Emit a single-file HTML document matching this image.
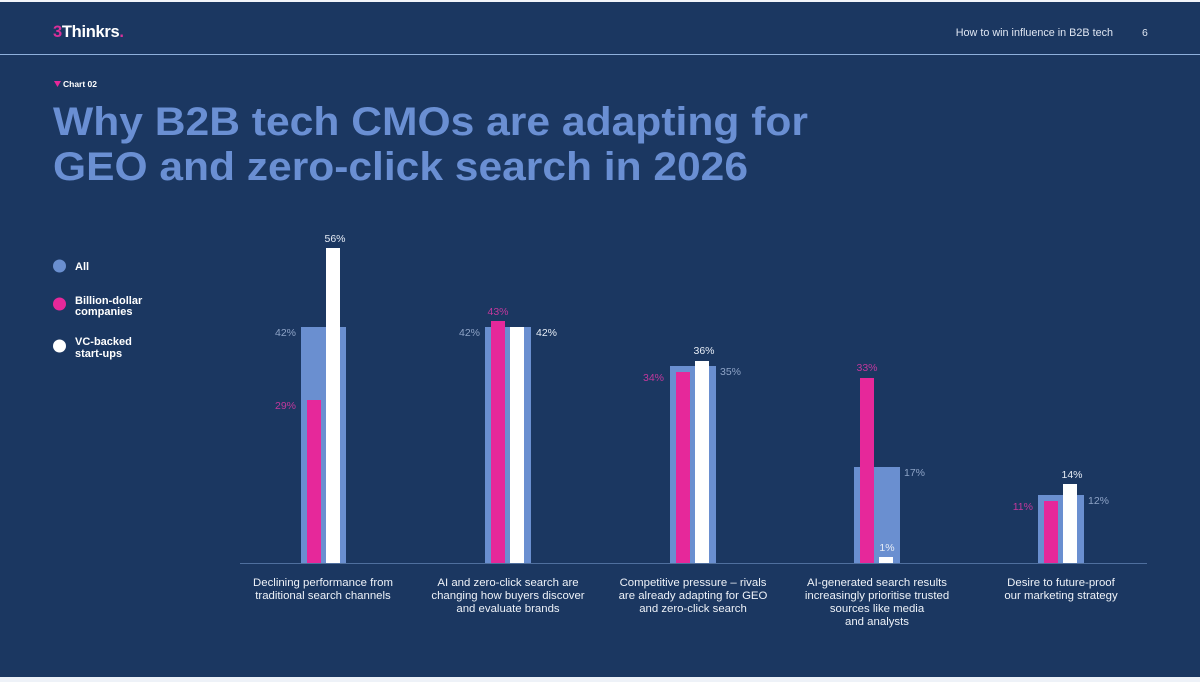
<!DOCTYPE html>
<html><head><meta charset="utf-8"><style>
html,body{margin:0;padding:0;background:#1b3761;}
svg{display:block;font-family:"Liberation Sans",Arial,sans-serif;}
</style></head><body>
<svg width="1200" height="682" viewBox="0 0 1200 682" xmlns="http://www.w3.org/2000/svg">
<rect width="1200" height="682" fill="#1b3761"/>
<rect x="0" y="0" width="1200" height="2" fill="#f2f5fa"/>
<rect x="0" y="677" width="1200" height="5" fill="#eef2f8"/>
<line x1="0" y1="54.5" x2="1200" y2="54.5" stroke="#8fb0dc" stroke-width="1"/>
<text x="53" y="37" font-size="16.5" font-weight="bold" fill="#ffffff" letter-spacing="-0.3"><tspan fill="#d8309a">3</tspan>Thinkrs<tspan fill="#d8309a">.</tspan></text>
<text x="1113" y="36" font-size="10.8" fill="#dfe6f2" text-anchor="end">How to win influence in B2B tech</text>
<text x="1142" y="36" font-size="10.5" fill="#dfe6f2">6</text>
<path d="M54 81 L61 81 L57.5 87 Z" fill="#e6289a"/>
<text x="63" y="87" font-size="8.5" font-weight="bold" fill="#ffffff">Chart 02</text>
<text x="53" y="135" font-size="40" font-weight="bold" fill="#6a8fd3" textLength="755" lengthAdjust="spacingAndGlyphs">Why B2B tech CMOs are adapting for</text>
<text x="53" y="180" font-size="40" font-weight="bold" fill="#6a8fd3" textLength="695" lengthAdjust="spacingAndGlyphs">GEO and zero-click search in 2026</text>
<g font-size="11" font-weight="bold" fill="#ffffff">
<circle cx="59.5" cy="266" r="6.5" fill="#6a8fd0"/><text x="75" y="270">All</text>
<circle cx="59.5" cy="304" r="6.5" fill="#e6289a"/><text x="75" y="304">Billion-dollar</text><text x="75" y="315">companies</text>
<circle cx="59.5" cy="346" r="6.5" fill="#ffffff"/><text x="75" y="345">VC-backed</text><text x="75" y="357">start-ups</text>
</g>
<line x1="240" y1="563.5" x2="1147" y2="563.5" stroke="#4f6f9e" stroke-width="1"/>
<g>
<rect x="301" y="327" width="45" height="236" fill="#6a8fd0"/>
<rect x="307" y="400" width="14" height="163" fill="#e6289a"/>
<rect x="326" y="248" width="14" height="315" fill="#ffffff"/>
<rect x="485" y="327" width="46" height="236" fill="#6a8fd0"/>
<rect x="491" y="321" width="14" height="242" fill="#e6289a"/>
<rect x="510" y="327" width="14" height="236" fill="#ffffff"/>
<rect x="670" y="366" width="46" height="197" fill="#6a8fd0"/>
<rect x="676" y="372" width="14" height="191" fill="#e6289a"/>
<rect x="695" y="361" width="14" height="202" fill="#ffffff"/>
<rect x="854" y="467" width="46" height="96" fill="#6a8fd0"/>
<rect x="860" y="378" width="14" height="185" fill="#e6289a"/>
<rect x="879" y="557" width="14" height="6" fill="#ffffff"/>
<rect x="1038" y="495" width="46" height="68" fill="#6a8fd0"/>
<rect x="1044" y="501" width="14" height="62" fill="#e6289a"/>
<rect x="1063" y="484" width="14" height="79" fill="#ffffff"/>
</g>
<g font-size="10.5">
<text x="296" y="336" text-anchor="end" fill="#8ea3c6">42%</text>
<text x="296" y="409" text-anchor="end" fill="#c2389c">29%</text>
<text x="335" y="242" text-anchor="middle" fill="#e6ecf5">56%</text>
<text x="480" y="336" text-anchor="end" fill="#8ea3c6">42%</text>
<text x="498" y="315" text-anchor="middle" fill="#c2389c">43%</text>
<text x="536" y="336" fill="#e6ecf5">42%</text>
<text x="664" y="381" text-anchor="end" fill="#c2389c">34%</text>
<text x="704" y="354" text-anchor="middle" fill="#e6ecf5">36%</text>
<text x="720" y="375" fill="#8ea3c6">35%</text>
<text x="867" y="371" text-anchor="middle" fill="#c2389c">33%</text>
<text x="904" y="476" fill="#8ea3c6">17%</text>
<text x="887" y="551" text-anchor="middle" fill="#e6ecf5">1%</text>
<text x="1033" y="510" text-anchor="end" fill="#c2389c">11%</text>
<text x="1072" y="478" text-anchor="middle" fill="#e6ecf5">14%</text>
<text x="1088" y="504" fill="#8ea3c6">12%</text>
</g>
<g font-size="11.4" fill="#eef2f8" text-anchor="middle">
<text x="323" y="586">Declining performance from</text>
<text x="323" y="599">traditional search channels</text>
<text x="508" y="586">AI and zero-click search are</text>
<text x="508" y="599">changing how buyers discover</text>
<text x="508" y="612">and evaluate brands</text>
<text x="693" y="586">Competitive pressure – rivals</text>
<text x="693" y="599">are already adapting for GEO</text>
<text x="693" y="612">and zero-click search</text>
<text x="877" y="586">AI-generated search results</text>
<text x="877" y="599">increasingly prioritise trusted</text>
<text x="877" y="612">sources like media</text>
<text x="877" y="625">and analysts</text>
<text x="1061" y="586">Desire to future-proof</text>
<text x="1061" y="599">our marketing strategy</text>
</g>
</svg>
</body></html>
